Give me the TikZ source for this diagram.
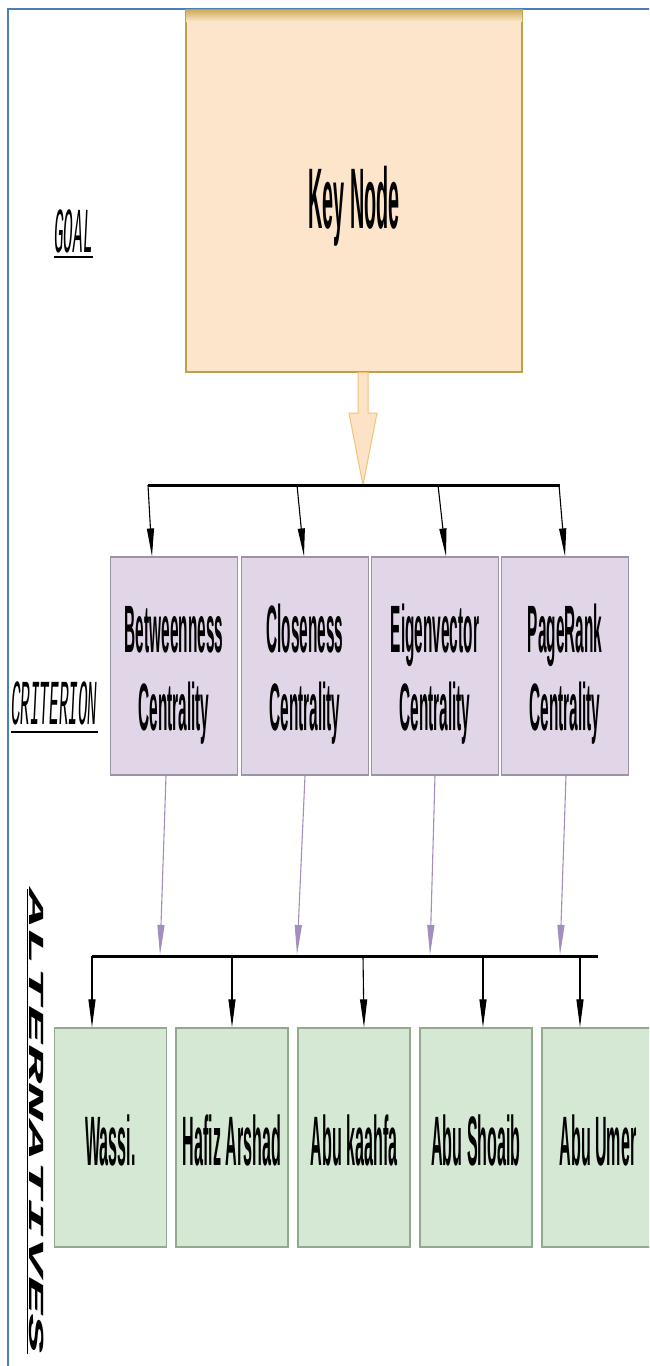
\documentclass[tikz,border=0pt]{standalone}
\usepackage{fontspec}
\usetikzlibrary{arrows.meta}
\newfontfamily\boxfont[FakeStretch=0.23]{Liberation Sans}
\newfontfamily\lblfont[FakeStretch=0.25]{Liberation Mono}
\newfontfamily\altfont[FakeStretch=3.0]{Liberation Mono}
\newcommand\twoln[2]{\vbox{\baselineskip=78pt\lineskiplimit=-200pt\halign{\hfil##\hfil\cr#1\cr#2\cr}}}
\definecolor{frameblue}{HTML}{4A7EBB}
\definecolor{keyfill}{HTML}{FDE5CB}
\definecolor{keydraw}{HTML}{B8A24A}
\definecolor{keytop}{HTML}{CDAE5A}
\definecolor{critfill}{HTML}{E0D6E8}
\definecolor{critdraw}{HTML}{9C93A8}
\definecolor{altfill}{HTML}{D5E8D4}
\definecolor{altdraw}{HTML}{93A88F}
\definecolor{purparrow}{HTML}{A38EC0}
\definecolor{blkfill}{HTML}{FDE3C5}
\definecolor{blkdraw}{HTML}{F0C27A}
\tikzset{
  keybox/.style={draw=keydraw, fill=keyfill, line width=1.2pt, minimum width=336pt, minimum height=362pt, inner sep=0pt, text height=75pt, text depth=0pt, font=\boxfont\bfseries\fontsize{86}{90}\selectfont},
  critbox/.style={draw=critdraw, fill=critfill, line width=1.2pt, minimum width=127pt, minimum height=218pt, inner sep=0pt, text height=128pt, text depth=0pt, font=\boxfont\bfseries\fontsize{67}{78}\selectfont},
  altbox/.style={draw=altdraw, fill=altfill, line width=1.2pt, minimum width=112pt, minimum height=219pt, inner sep=0pt, text height=55pt, text depth=0pt, font=\boxfont\bfseries\fontsize{70}{74}\selectfont},
  lvl/.style={inner sep=0pt, font=\lblfont\itshape\fontsize{64}{64}\selectfont},
  lvlalt/.style={inner sep=0pt, font=\altfont\bfseries\itshape\fontsize{21.5}{22}\selectfont},
  bar/.style={line width=3pt, black},
  blackarr/.style={line width=1.1pt, black, -{Triangle[length=28pt,width=7pt]}},
  purparr/.style={line width=1.1pt, purparrow, -{Triangle[length=30pt,width=7pt]}},
  uline/.style={line width=2pt, black}
}
\begin{document}
\begin{tikzpicture}[x=1pt,y=-1pt]
\useasboundingbox (0,0) rectangle (649,1366);
\clip (0,0) rectangle (649,1366);
\fill[white] (0,0) rectangle (649,1366);
% frame
\draw[frameblue, line width=2.5pt] (8,1370) -- (8,9) -- (660,9);

% goal
\node[keybox] (key) at (354,191) {Key Node};
\shade[top color=keytop, bottom color=keyfill] ([xshift=0.6pt,yshift=-0.6pt]key.north west) rectangle ([xshift=-0.6pt,yshift=-12pt]key.north east);

% criteria
\node[critbox] (bet) at (174,666) {\twoln{Betweenness}{Centrality}};
\node[critbox] (clo) at (305,666) {\twoln{Closeness}{Centrality}};
\node[critbox] (eig) at (435,666) {\twoln{Eigenvector}{Centrality}};
\node[critbox] (pr)  at (565,666) {\twoln{PageRank}{Centrality}};

% alternatives
\node[altbox] (was) at (110.5,1137.5) {Wassi.};
\node[altbox] (haf) at (232,1137.5) {Hafiz Arshad};
\node[altbox] (abk) at (354,1137.5) {Abu kaahfa};
\node[altbox] (abs) at (476,1137.5) {Abu Shoaib};
\node[altbox] (abu) at (598,1137.5) {Abu Umer};

% level labels
\node[lvl, anchor=base west] (goal) at (54,252) {GOAL};
\draw[uline] ([yshift=-5pt]goal.base west) -- ([yshift=-5pt]goal.base east);
\node[lvl, anchor=base west] (crit) at (11,724) {CRITERION};
\draw[uline] ([yshift=-8pt]crit.base west) -- ([yshift=-8pt]crit.base east);
\node[lvlalt, rotate=-90, anchor=base west] (alts) at (29,889) {ALTERNATIVES};
\draw[uline, line width=1.5pt] ([xshift=-1.5pt]alts.base west) -- ([xshift=-1.5pt]alts.base east);

% bar coordinates
\coordinate (b1l) at (148,485);
\coordinate (b1r) at (560,485);
\coordinate (b1m) at (363,485);
\coordinate (t1) at (148,485);
\coordinate (t2) at (297,485);
\coordinate (t3) at (438,485);
\coordinate (t4) at (559,485);
\coordinate (b2l) at (92,956);
\coordinate (b2r) at (598,956);
\coordinate (p1) at (160,955);
\coordinate (p2) at (297,955);
\coordinate (p3) at (430,955);
\coordinate (p4) at (560,955);
\coordinate (a1) at (92,956);
\coordinate (a2) at (232,956);
\coordinate (a3) at (363,956);
\coordinate (a4) at (483,956);
\coordinate (a5) at (580,956);

% block arrow from key node
\coordinate (ka) at ([xshift=9pt]key.south);
\draw[blkdraw, fill=blkfill, line width=1pt, line join=miter]
  ([xshift=-5pt]ka) -- ([xshift=-5pt]ka |- 0,413) -- ([xshift=-14pt]ka |- 0,413) -- (b1m)
  -- ([xshift=14pt]ka |- 0,413) -- ([xshift=5pt]ka |- 0,413) -- ([xshift=5pt]ka) -- cycle;

% bar 1 and arrows
\draw[bar] (b1l) -- (b1r);
\draw[blackarr] (t1) -- ([xshift=-22pt]bet.north);
\draw[blackarr] (t2) -- ([xshift=-1pt]clo.north);
\draw[blackarr] (t3) -- ([xshift=11pt]eig.north);
\draw[blackarr] (t4) -- (pr.north);

% purple arrows
\draw[purparr] ([xshift=-8pt]bet.south) -- (p1);
\draw[purparr] (clo.south) -- (p2);
\draw[purparr] (eig.south) -- (p3);
\draw[purparr] ([xshift=1pt]pr.south) -- (p4);

% bar 2 and arrows
\draw[bar] (b2l) -- (b2r);
\draw[blackarr] (a1) -- ([xshift=-18.5pt]was.north);
\draw[blackarr] (a2) -- (haf.north);
\draw[blackarr] (a3) -- ([xshift=10pt]abk.north);
\draw[blackarr] (a4) -- ([xshift=7pt]abs.north);
\draw[blackarr] (a5) -- ([xshift=-18pt]abu.north);
\end{tikzpicture}
\end{document}
